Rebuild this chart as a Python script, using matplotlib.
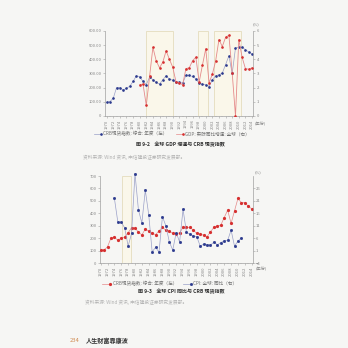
import matplotlib
matplotlib.use('Agg')
import matplotlib.pyplot as plt
from matplotlib.lines import Line2D

plt.rcParams['font.family'] = ['Noto Sans CJK SC', 'DejaVu Sans']

# ---------------- data ----------------
years = list(range(1970, 2015))
crb_top = [97, 102, 125, 201, 201, 182, 196, 210, 244, 284,
           277, 244, 222, 274, 256, 237, 225, 256, 284, 260,
           253, 237, 237, 232, 286, 286, 279, 263, 232, 225,
           220, 208, 256, 284, 291, 303, 362, 425, 300, 480,
           487, 485, 468, 452, 438]
gdp_years = list(range(1980, 2015))
gdp = [2.2, 2.25, 0.75, 2.8, 4.85, 3.9, 3.4, 3.8, 4.6, 4.0,
       3.45, 2.4, 2.35, 2.2, 3.35, 3.4, 3.9, 4.15, 2.4, 3.6,
       4.75, 2.35, 2.95, 3.9, 5.4, 4.9, 5.55, 5.7, 3.05, 0.0,
       5.4, 4.15, 3.35, 3.3, 3.4]
crb_bottom = [106, 106, 133, 203, 208, 186, 200, 212, 245, 285,
              283, 250, 228, 274, 258, 240, 230, 260, 288, 265,
              258, 240, 235, 245, 288, 288, 288, 266, 240, 232,
              226, 213, 253, 288, 298, 306, 367, 426, 320, 421,
              520, 486, 486, 458, 437]
cpi_years = list(range(1974, 2012))
cpi = [22.0, 12.5, 12.5, 10.2, 2.9, 8.0, 32.0, 17.4, 12.2, 25.3,
       15.5, 0.6, 2.4, 0.5, 14.7, 11.0, 4.6, 1.3, 8.3, 4.6,
       17.6, 8.4, 7.7, 6.9, 6.7, 2.9, 3.7, 3.4, 3.3, 4.5,
       3.4, 4.3, 5.0, 5.2, 9.3, 2.9, 4.9, 6.2]
top_periods = [(1982, 1990.1), (1997.7, 2000.7), (2002.5, 2010.7)]
bottom_periods = [(1976.1, 1978.75)]
x_tick_years = list(range(1970, 2015, 2))
top_left_ticks = [0, 100, 200, 300, 400, 500, 600]
top_left_labels = ['0', '100.00', '200.00', '300.00', '400.00', '500.00', '600.00']
top_right_ticks = [0, 1, 2, 3, 4, 5, 6]
bot_left_ticks = [0, 100, 200, 300, 400, 500, 600, 700]
bot_right_ticks = [-4, 1, 6, 11, 16, 21, 26]

# ---------------- style ----------------
W = H = 348
bg = '#f6f6f4'
spine_c = '#a0a0a0'
tick_c = '#858585'
blue_line = '#9aa0c8'
blue_mark = '#2c3a8e'
red_line = '#e58a8a'
red_mark = '#d63030'
span_face = '#faf7ea'
span_edge = '#e0d7b4'
TS = 3.0

fig = plt.figure(figsize=(3.48, 3.48), dpi=100)
fig.patch.set_facecolor(bg)


def px_axes(l, t, r, b):
    return fig.add_axes([l / W, 1 - b / H, (r - l) / W, (b - t) / H])


def ftext(x, y, s, **kw):
    fig.text(x / W, 1 - y / H, s, **kw)


def style_axes(ax, axr):
    ax.set_facecolor(bg)
    for sp in ['top', 'right']:
        ax.spines[sp].set_visible(False)
    for sp in ['top', 'left', 'bottom']:
        axr.spines[sp].set_visible(False)
    for a in (ax, axr):
        for sp in a.spines.values():
            sp.set_color(spine_c)
            sp.set_linewidth(0.5)
        a.tick_params(labelsize=TS, length=1.5, width=0.4, pad=1,
                      colors=spine_c, labelcolor=tick_c)
    ax.tick_params(axis='x', which='minor', length=1.0, width=0.3, colors=spine_c)
    ax.set_xticks(x_tick_years)
    ax.set_xticks(years, minor=True)
    ax.set_xticklabels([str(y) for y in x_tick_years], rotation=90)


# ---------------- top chart ----------------
ax1 = px_axes(105, 31, 253, 116)
ax1r = ax1.twinx()
ax1.set_xlim(1969.5, 2014.3)
ax1.set_ylim(0, 600)
ax1r.set_ylim(0, 6)
for a, b in top_periods:
    ax1.axvspan(a, b, facecolor=span_face, edgecolor=span_edge, lw=0.5, zorder=0)
ax1.plot(years, crb_top, color=blue_line, lw=0.5, marker='o', ms=0.9,
         mfc=blue_mark, mec=blue_mark, zorder=3)
ax1r.plot(gdp_years, gdp, color=red_line, lw=0.6, marker='o', ms=0.9,
          mfc=red_mark, mec=red_mark, zorder=3)
style_axes(ax1, ax1r)
ax1.set_yticks(top_left_ticks)
ax1.set_yticklabels(top_left_labels)
ax1r.set_yticks(top_right_ticks)

ftext(256, 24, '(%)', fontsize=TS, color=tick_c, ha='center', va='center')
ftext(255, 124, '(年份)', fontsize=TS, color=tick_c, ha='left', va='center')

# legend top
fig.add_artist(Line2D([94 / W, 101 / W], [1 - 134 / H] * 2, color=blue_line, lw=0.5,
                      marker='o', ms=0.9, mfc=blue_mark, mec=blue_mark, markevery=[1]))
ftext(103, 134, 'CRB现货指数: 综合: 年度（左）', fontsize=3.3, color='#707070', va='center')
fig.add_artist(Line2D([176 / W, 183 / W], [1 - 134 / H] * 2, color=red_line, lw=0.5,
                      marker='o', ms=0.9, mfc=red_mark, mec=red_mark, markevery=[1]))
ftext(185, 134, 'GDP: 实际同比增速: 全球（右）', fontsize=3.3, color='#707070', va='center')
ftext(180, 144.5, '图 9-2    全球 GDP 增速与 CRB 现货指数', fontsize=3.6, color='#333333',
      ha='center', va='center', fontweight='bold')
ftext(83, 157, '资料来源: Wind 资讯, 中信建投证券研究发展部。', fontsize=3.4, color='#b4b4b4',
      va='center')

# ---------------- bottom chart ----------------
ax2 = px_axes(100, 176, 252.7, 263.3)
ax2r = ax2.twinx()
ax2.set_xlim(1969.8, 2014.3)
ax2.set_ylim(0, 700)
ax2r.set_ylim(-4, 31)
for a, b in bottom_periods:
    ax2.axvspan(a, b, facecolor=span_face, edgecolor=span_edge, lw=0.5, zorder=0)
ax2.plot(years, crb_bottom, color=red_line, lw=0.5, marker='o', ms=1.3,
         mfc=red_mark, mec=red_mark, zorder=3)
ax2r.plot(cpi_years, cpi, color=blue_line, lw=0.5, marker='s', ms=1.0,
          mfc=blue_mark, mec=blue_mark, zorder=3, clip_on=False)
style_axes(ax2, ax2r)
ax2.set_yticks(bot_left_ticks)
ax2r.set_yticks(bot_right_ticks)

ftext(258, 172, '(%)', fontsize=TS, color=tick_c, ha='center', va='center')
ftext(256, 269, '(年份)', fontsize=TS, color=tick_c, ha='left', va='center')

fig.add_artist(Line2D([102 / W, 110 / W], [1 - 283.5 / H] * 2, color=red_line, lw=0.5,
                      marker='o', ms=1.3, mfc=red_mark, mec=red_mark, markevery=[1]))
ftext(113, 283.5, 'CRB现货指数: 综合: 年度（左）', fontsize=3.3, color='#707070', va='center')
fig.add_artist(Line2D([183 / W, 191 / W], [1 - 283.5 / H] * 2, color=blue_line, lw=0.5,
                      marker='s', ms=1.0, mfc=blue_mark, mec=blue_mark, markevery=[1]))
ftext(193, 283.5, 'CPI: 全球: 同比（右）', fontsize=3.3, color='#707070', va='center')
ftext(181, 292, '图 9-3    全球 CPI 同比与 CRB 现货指数', fontsize=3.6, color='#333333',
      ha='center', va='center', fontweight='bold')
ftext(85, 302, '资料来源: Wind 资讯, 中信建投证券研究发展部。', fontsize=3.4, color='#b4b4b4',
      va='center')

# footer
ftext(70, 341, '234', fontsize=4.2, color='#d08a50', va='center')
ftext(86, 341, '人生财富靠康波', fontsize=4.4, color='#333333', va='center', fontweight='bold')

fig.savefig('out.png', dpi=100, facecolor=bg)
